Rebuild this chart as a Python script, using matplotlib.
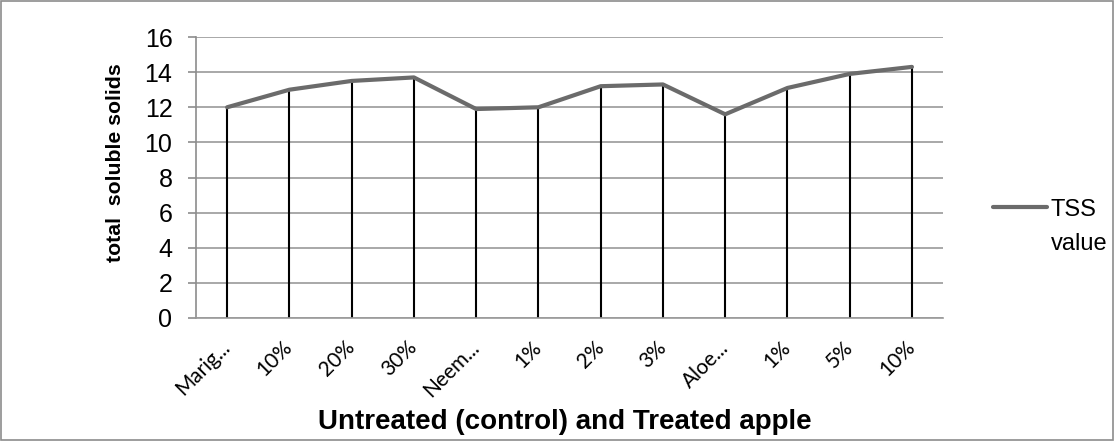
# TSS (total soluble solids) of untreated and treated apple
import matplotlib.pyplot as plt
from matplotlib.patches import Rectangle

categorias = ['Marig...', '10%', '20%', '30%', 'Neem...', '1%', '2%', '3%',
              'Aloe...', '1%', '5%', '10%']
tss = [12.0, 13.0, 13.5, 13.7, 11.9, 12.0, 13.2, 13.3, 11.6, 13.1, 13.9, 14.3]
yticks = [0, 2, 4, 6, 8, 10, 12, 14, 16]

plt.rcParams['font.family'] = ['Liberation Sans', 'DejaVu Sans']

fig = plt.figure(figsize=(11.15, 4.41), dpi=100)
ax = fig.add_axes([0.1758, 0.279, 0.670, 0.637])

x = list(range(len(tss)))

# linhas de queda ate o eixo
ax.vlines(x, 0, tss, color='black', linewidth=1.5, zorder=2)
ax.plot(x, tss, color='#6b6b6b', linewidth=3, solid_capstyle='round',
        label='TSS\nvalue', zorder=3)

ax.set_xlim(-0.5, len(tss) - 0.5)
ax.set_ylim(0, 16)
ax.set_yticks(yticks)
ax.yaxis.grid(True, color='#9a9a9a', linewidth=1.2)
ax.set_axisbelow(True)

for s in ['top', 'right']:
    ax.spines[s].set_visible(False)
ax.spines['left'].set_color('#8c8c8c')
ax.spines['left'].set_linewidth(1.2)
ax.spines['bottom'].set_color('#9a9a9a')
ax.spines['bottom'].set_linewidth(1.2)

ax.tick_params(axis='y', length=6, width=1.2, color='#8c8c8c', labelsize=18, pad=11)
ax.tick_params(axis='x', length=0, pad=19)
ax.set_xticks(x)
ax.set_xticklabels(categorias, rotation=45, ha='right', va='center',
                   rotation_mode='anchor', fontsize=15,
                   family=['Lato', 'DejaVu Sans'])

ax.set_ylabel('total  soluble solids', fontsize=15.3, fontweight='bold')
ax.yaxis.set_label_coords(-0.095, 0.552)
ax.set_xlabel('Untreated (control) and Treated apple', fontsize=20, fontweight='bold')
ax.xaxis.set_label_coords(0.494, -0.325)

leg = fig.legend(loc='center left', bbox_to_anchor=(0.8906, 0.485), frameon=False,
                 borderpad=0, borderaxespad=0, handlelength=2.3, handletextpad=0.15,
                 prop={'size': 17})
for t in leg.get_texts():
    t.set_linespacing(1.7)
# alinhar a linha da legenda com a primeira linha do texto
h = leg.legend_handles[0]
yd = h.get_ydata()
h.set_ydata([v + 14.5 for v in yd])

# borda cinza da figura
fig.patches.append(Rectangle((0.001, 0.002), 0.997, 0.995, transform=fig.transFigure,
                             fill=False, edgecolor='#8c8c8c', linewidth=1.2))

plt.savefig('out.png', dpi=100)
